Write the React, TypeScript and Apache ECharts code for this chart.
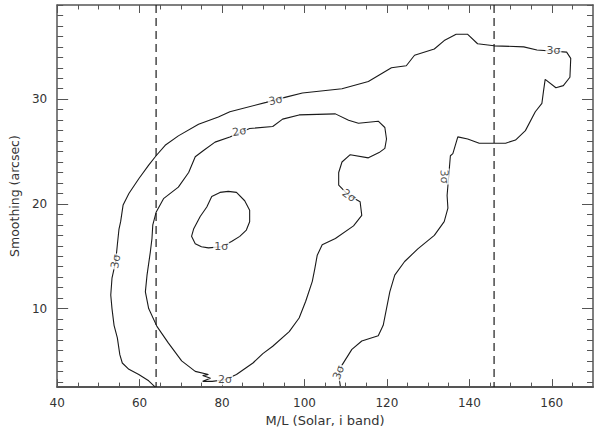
import React, { useEffect, useRef } from "react";
import * as echarts from "echarts";

// ---- axis ticks ----
const xMajorTicks = [40, 60, 80, 100, 120, 140, 160];
const xMinorTicks = [45, 50, 55, 65, 70, 75, 85, 90, 95, 105, 110, 115, 125, 130, 135, 145, 150, 155, 165];
const yMajorTicks = [10, 20, 30];
const yMinorTicks = [3, 4, 5, 6, 7, 8, 9, 11, 12, 13, 14, 15, 16, 17, 18, 19, 21, 22, 23, 24, 25, 26, 27, 28, 29, 31, 32, 33, 34, 35, 36, 37, 38, 39];

// ---- contour traces (M/L, smoothing) ----
const sigma3: [number, number][] = [
  [63.8, 2.5], [62.2, 3.1], [59.8, 3.7], [57.4, 4.2], [55.8, 4.8], [55.2, 5.6], [54.6, 7.2], [53.8, 8.4],
  [53.3, 10.0], [53.0, 11.3], [53.3, 12.9], [54.2, 14.5], [54.6, 16.1], [55.0, 17.6], [55.4, 18.3], [56.0, 19.9],
  [57.4, 21.0], [59.8, 22.4], [62.2, 23.7], [64.0, 24.6], [66.2, 25.6], [69.4, 26.5], [74.3, 27.6], [79.1, 28.3],
  [81.9, 28.8], [90.7, 29.7], [95.5, 30.2], [99.5, 30.6], [109.1, 31.0], [115.5, 31.7], [121.1, 33.0], [124.7, 33.2],
  [126.7, 34.2], [131.5, 34.8], [133.9, 35.6], [136.8, 36.2], [139.6, 36.2], [142.0, 35.3], [146.0, 35.1], [153.2, 35.0],
  [156.4, 34.7], [163.6, 34.5], [164.6, 33.9], [164.4, 32.1], [162.8, 31.3], [161.0, 31.1], [158.4, 31.9], [158.0, 30.8],
  [157.6, 29.6], [156.0, 28.8], [153.6, 27.0], [151.2, 26.1], [148.8, 25.8], [146.0, 25.8], [142.4, 25.8], [139.6, 26.2],
  [137.2, 26.4], [136.0, 24.8], [135.4, 24.6], [134.6, 20.8], [134.8, 19.6], [133.9, 18.3], [131.5, 17.0], [127.5, 15.7],
  [124.3, 14.5], [121.9, 13.2], [120.7, 11.6], [119.1, 8.4], [117.9, 7.4], [113.9, 6.9], [111.5, 6.1], [109.1, 4.6],
  [108.3, 3.7], [108.7, 2.6],
];

const sigma2: [number, number][] = [
  [83.5, 3.7], [80.7, 3.2], [77.6, 3.05], [75.3, 3.05], [77.2, 3.35], [75.3, 3.6], [76.7, 3.7], [73.5, 4.0],
  [70.2, 5.0], [67.0, 6.7], [64.2, 8.3], [62.2, 10.0], [61.4, 11.6], [61.8, 13.2], [62.6, 15.4], [63.0, 16.7],
  [63.2, 18.0], [64.0, 19.2], [65.8, 20.5], [69.4, 21.6], [71.9, 23.0], [73.5, 24.5], [75.5, 25.1], [78.3, 25.9],
  [81.9, 26.4], [86.7, 27.2], [92.3, 27.4], [94.7, 28.1], [98.7, 28.5], [107.5, 28.6], [110.7, 28.0], [113.1, 27.7],
  [117.9, 27.9], [119.5, 27.3], [119.9, 26.2], [119.5, 25.3], [118.1, 24.9], [115.5, 24.4], [111.1, 24.7], [109.1, 24.0],
  [108.3, 23.0], [108.3, 21.8], [110.8, 20.8], [113.5, 20.2], [113.9, 18.9], [111.9, 17.9], [107.5, 16.7], [104.3, 16.1],
  [103.1, 15.1], [102.5, 13.8], [101.9, 12.6], [100.3, 10.7], [98.7, 9.1], [96.3, 7.8], [92.3, 6.4], [89.9, 5.7],
  [87.5, 4.8], [83.5, 3.7],
];

const sigma1: [number, number][] = [
  [79.8, 15.9], [76.7, 15.8], [75.0, 15.9], [73.5, 16.2], [72.6, 16.9], [73.1, 17.6], [74.7, 18.8], [76.3, 19.7],
  [77.5, 20.7], [79.5, 21.1], [81.5, 21.2], [83.5, 21.1], [85.5, 20.3], [86.7, 19.4], [86.7, 18.3], [85.9, 17.5],
  [84.3, 16.9], [82.3, 16.4], [79.8, 15.9],
];

const boundsX = [64, 146];

const labelTexts = ["3σ", "3σ", "2σ", "3σ", "2σ", "3σ", "3σ", "2σ", "1σ"];
const labelX = [54.2, 93.0, 84.2, 160.4, 110.8, 133.9, 108.3, 80.7, 79.8];
const labelY = [14.5, 29.9, 26.9, 34.7, 20.8, 22.6, 3.9, 3.2, 15.9];
const labelAngle = [80, 12, 10, 0, -35, -88, 70, 0, 0];

const X_MIN = 40;
const X_MAX = 170;
const Y_MIN = 2.5;
const Y_MAX = 39;

const FONT = "DejaVu Sans";
const AXIS_COLOR = "#555";
const LINE_COLOR = "#1a1a1a";

export default function App() {
  const ref = useRef<HTMLDivElement>(null);

  useEffect(() => {
    if (!ref.current) return;
    const chart = echarts.init(ref.current, undefined, { renderer: "svg" });

    const mkX = (pos: string, ticks: number[], len: number, withLabels: boolean, lineShow: boolean, width: number, extra: any = {}) => ({
      type: "value",
      min: X_MIN,
      max: X_MAX,
      position: pos,
      axisLine: { show: lineShow, onZero: false, lineStyle: { color: AXIS_COLOR, width } },
      axisTick: { show: true, inside: true, length: len, customValues: ticks, lineStyle: { color: AXIS_COLOR, width: 1 } },
      axisLabel: withLabels
        ? { show: true, customValues: xMajorTicks, margin: 10, fontSize: 12, color: "#333", fontFamily: FONT }
        : { show: false },
      splitLine: { show: false },
      ...extra,
    });
    const mkY = (pos: string, ticks: number[], len: number, withLabels: boolean, lineShow: boolean, width: number, extra: any = {}) => ({
      type: "value",
      min: Y_MIN,
      max: Y_MAX,
      position: pos,
      axisLine: { show: lineShow, onZero: false, lineStyle: { color: AXIS_COLOR, width } },
      axisTick: { show: true, inside: true, length: len, customValues: ticks, lineStyle: { color: AXIS_COLOR, width: 1 } },
      axisLabel: withLabels
        ? { show: true, customValues: yMajorTicks, margin: 10, fontSize: 12, color: "#333", fontFamily: FONT }
        : { show: false },
      splitLine: { show: false },
      ...extra,
    });

    const contour = (data: [number, number][]) => ({
      type: "line",
      xAxisIndex: 0,
      yAxisIndex: 0,
      data,
      showSymbol: false,
      symbol: "none",
      smooth: false,
      silent: true,
      lineStyle: { color: LINE_COLOR, width: 1.1 },
      z: 3,
    });

    const dashed = boundsX.map((x) => ({
      type: "line",
      xAxisIndex: 0,
      yAxisIndex: 0,
      data: [[x, Y_MAX], [x, Y_MIN]],
      showSymbol: false,
      symbol: "none",
      silent: true,
      lineStyle: { color: LINE_COLOR, width: 1.2, type: [8, 5] },
      z: 2,
    }));

    const labelData = labelTexts.map((t, i) => ({
      name: t,
      value: [labelX[i], labelY[i]],
      label: { rotate: labelAngle[i] },
    }));

    chart.setOption({
      animation: false,
      backgroundColor: "#fff",
      textStyle: { fontFamily: FONT },
      grid: { left: 53, right: 7, top: 5, bottom: 43, containLabel: false },
      xAxis: [
        mkX("bottom", xMajorTicks, 8, true, true, 2, {
          name: "M/L (Solar, i band)",
          nameLocation: "middle",
          nameGap: 25,
          nameTextStyle: { fontSize: 13, color: "#333", fontFamily: FONT },
        }),
        mkX("bottom", xMinorTicks, 4.5, false, false, 1),
        mkX("top", xMajorTicks, 8, false, true, 1.5),
        mkX("top", xMinorTicks, 4.5, false, false, 1),
      ],
      yAxis: [
        mkY("left", yMajorTicks, 11, true, true, 1.5, {
          name: "Smoothing (arcsec)",
          nameLocation: "middle",
          nameGap: 30,
          nameTextStyle: { fontSize: 12.5, color: "#333", fontFamily: FONT },
        }),
        mkY("left", yMinorTicks, 6, false, false, 1),
        mkY("right", yMajorTicks, 11, false, true, 1.5),
        mkY("right", yMinorTicks, 6, false, false, 1),
      ],
      series: [
        ...dashed,
        contour(sigma3),
        contour(sigma2),
        contour(sigma1),
        {
          type: "scatter",
          xAxisIndex: 0,
          yAxisIndex: 0,
          symbolSize: 0,
          silent: true,
          z: 5,
          data: labelData,
          label: {
            show: true,
            position: "inside",
            formatter: (p: any) => p.name,
            fontSize: 11,
            color: "#1a1a1a",
            fontFamily: FONT,
            backgroundColor: "#fff",
            padding: [0, 1],
          },
        },
      ],
    });

    return () => chart.dispose();
  }, []);

  return <div ref={ref} style={{ position: "absolute", left: 0, top: 0, width: 600, height: 432 }} />;
}
